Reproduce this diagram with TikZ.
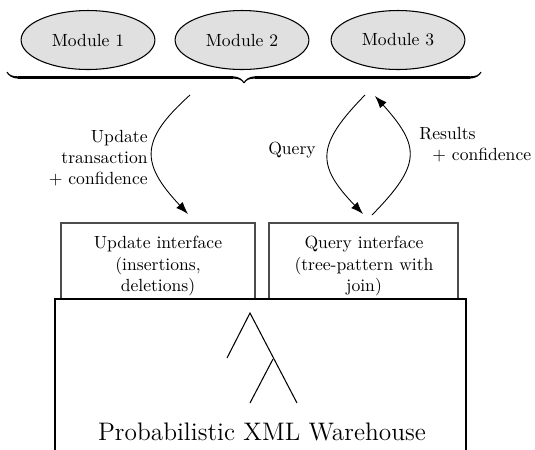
\documentclass[tikz,border=0pt]{standalone}
\usetikzlibrary{shapes.geometric,arrows.meta,decorations.pathreplacing,calligraphy}
\begin{document}
\begin{tikzpicture}[x=0.568pt,y=-0.568pt,
  modnode/.style={ellipse,draw=black,line width=0.6pt,fill=black!12,minimum width=76pt,minimum height=33.5pt,inner sep=0pt},
  ifbox/.style={draw=black!70,line width=0.6pt},
  flow/.style={line width=0.5pt,-{Latex[length=7pt,width=5pt]}},
  lbl/.style={inner sep=0pt}]
\useasboundingbox (0,0) rectangle (535,449);
% modules
\node[modnode] (m1) at (88,40) {Module 1};
\node[modnode] (m2) at (242,40) {Module 2};
\node[modnode] (m3) at (398,40) {Module 3};
% brace
\coordinate (br) at (481,72);
\coordinate (bl) at (7,72);
\draw[decorate,decoration={calligraphic brace,amplitude=6.2pt},line width=1.3pt] (br) -- (bl);
% interface boxes
\draw[ifbox] (61,299) -- (61,223) -- (255,223) -- (255,299);
\draw[ifbox] (269,299) -- (269,223) -- (458,223) -- (458,299);
\node[align=center] (ui) at (158,266) {Update interface\\(insertions,\\deletions)};
\node[align=center] (qi) at (364,266) {Query interface\\(tree-pattern with\\join)};
% warehouse
\draw[line width=0.6pt] (55,452) -- (55,299) -- (466,299) -- (466,452);
\node[font=\Large] (wh) at (262,432) {Probabilistic XML Warehouse};
% tree
\coordinate (t0) at (250,313);
\coordinate (t1) at (227,358);
\coordinate (t2) at (273,359);
\coordinate (t3) at (250,403);
\coordinate (t4) at (297,403);
\draw[line width=0.6pt] (t1) -- (t0) -- (t4);
\draw[line width=0.6pt] (t2) -- (t3);
% arrows
\coordinate (us) at (190,95);
\coordinate (ue) at (188,214);
\draw[flow] (us) .. controls (140,140) and (140,163) .. (ue);
\coordinate (qs) at (365,95);
\coordinate (qe) at (363,214);
\draw[flow] (qs) .. controls (316,145) and (316,165) .. (qe);
\coordinate (rs) at (372,215);
\coordinate (re) at (375,96);
\draw[flow] (rs) .. controls (421,165) and (421,147) .. (re);
% labels
\node[lbl,align=right,anchor=east] (lu) at (148,158) {Update\\transaction\\+ confidence};
\node[lbl] (lq) at (292,150) {Query};
\node[lbl,align=left,anchor=west] (lr) at (419,145) {Results\\\hspace{7.4pt}+ confidence};
\end{tikzpicture}
\end{document}
